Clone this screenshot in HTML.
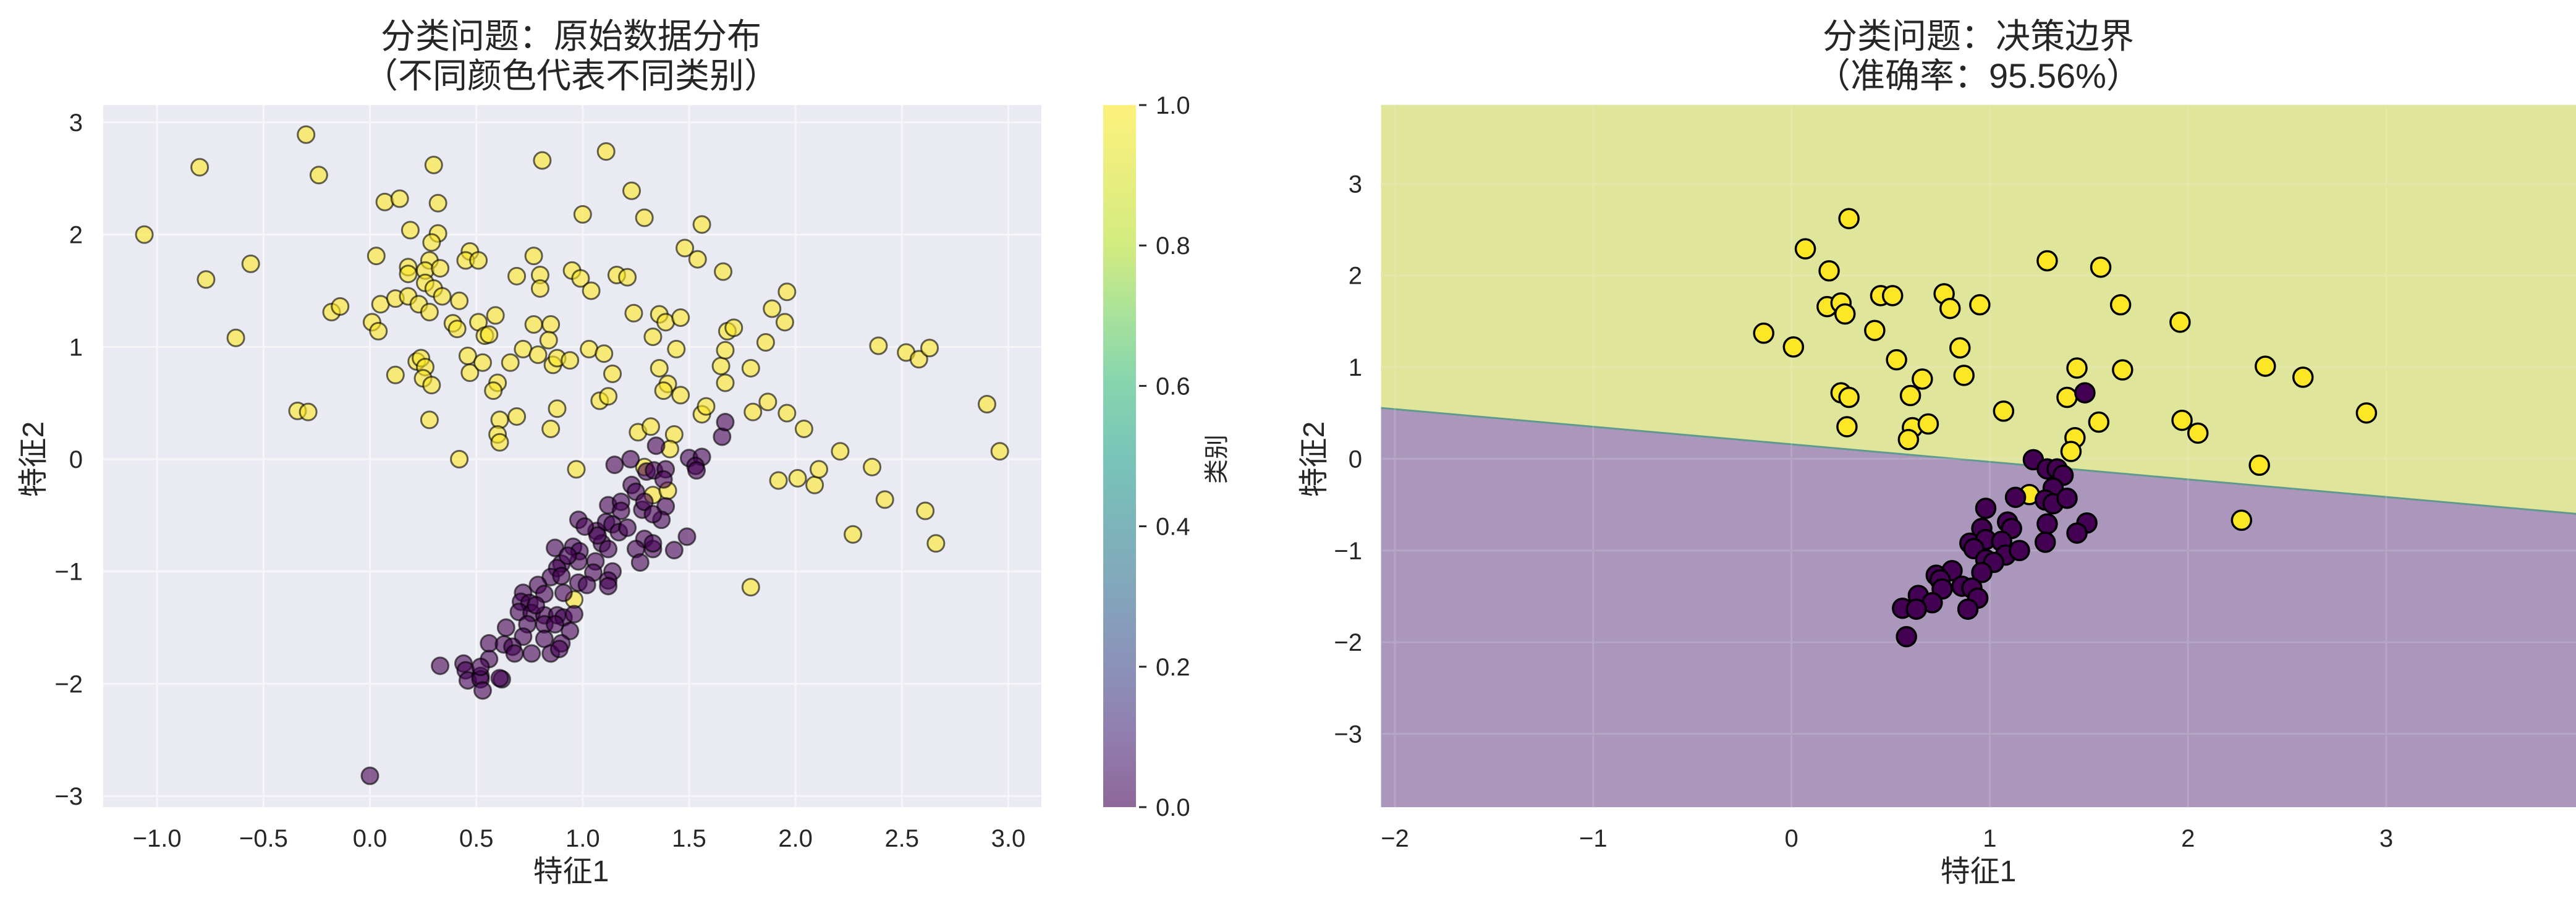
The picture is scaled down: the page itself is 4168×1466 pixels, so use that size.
<!DOCTYPE html>
<html><head><meta charset="utf-8">
<style>
html,body{margin:0;padding:0;background:#fff;}
svg{display:block;font-family:"Liberation Sans","Noto Sans CJK SC",sans-serif;}
</style></head>
<body>
<svg id="chart" width="4168" height="1466" viewBox="0 0 4168 1466" xmlns="http://www.w3.org/2000/svg">
<defs>
<linearGradient id="viridis" x1="0" y1="1" x2="0" y2="0">
<stop offset="0" stop-color="#440154"/><stop offset="0.1" stop-color="#482878"/><stop offset="0.2" stop-color="#3e4989"/><stop offset="0.3" stop-color="#31688e"/><stop offset="0.4" stop-color="#26828e"/><stop offset="0.5" stop-color="#1f9e89"/><stop offset="0.6" stop-color="#35b779"/><stop offset="0.7" stop-color="#6ece58"/><stop offset="0.8" stop-color="#b5de2b"/><stop offset="1" stop-color="#fde725"/>
</linearGradient>
<clipPath id="clipL"><rect x="167" y="170" width="1518" height="1136"/></clipPath>
<clipPath id="clipR"><rect x="2236" y="170" width="1932" height="1136"/></clipPath>
</defs>
<g id="left"></g>
<g id="right"></g>
</svg>
<script>
// ---- left panel data (all samples) ----
const leftYellowX = [-1.06,-0.80,-0.77,-0.56,-0.63,-0.30,-0.24,-0.34,-0.29,-0.18,-0.14,0.03,0.01,0.04,0.05,0.07,0.14,0.12,0.18,0.19,0.18,0.18,0.23,0.28,0.30,0.32,0.32,0.29,0.28,0.26,0.33,0.26,0.30,0.34,0.12,0.22,0.24,0.26,0.25,0.29,0.28,0.42,0.42,0.47,0.45,0.51,0.39,0.41,0.46,0.47,0.51,0.54,0.56,0.59,0.53,0.66,0.60,0.58,0.61,0.60,0.61,0.69,0.72,0.69,0.77,0.80,0.80,0.77,0.85,0.84,0.79,0.86,0.88,0.94,0.88,0.85,0.81,0.95,0.99,1.04,1.00,1.11,1.03,1.10,1.14,1.08,1.12,0.97,1.16,1.21,1.23,1.29,1.24,1.36,1.39,1.46,1.33,1.44,1.36,1.40,1.38,1.46,1.26,1.32,1.43,1.41,1.29,1.33,1.48,1.54,1.56,1.66,1.56,1.58,1.65,1.67,1.67,1.68,1.71,1.79,1.86,1.89,1.95,1.96,1.80,1.87,1.96,2.04,1.92,2.01,2.09,2.11,2.21,1.79,2.27,2.36,2.42,2.39,2.52,2.58,2.63,2.61,2.66,2.90,2.96,1.40,0.96];
const leftYellowY = [2.00,2.60,1.60,1.74,1.08,2.89,2.53,0.43,0.42,1.31,1.36,1.81,1.22,1.14,1.38,2.29,2.32,1.43,1.45,2.04,1.71,1.65,1.38,1.31,2.62,2.28,2.01,1.93,1.77,1.68,1.70,1.57,1.52,1.45,0.75,0.87,0.90,0.82,0.72,0.66,0.35,0.00,1.41,1.85,1.77,1.77,1.21,1.16,0.92,0.77,1.22,1.10,1.11,1.28,0.86,0.86,0.68,0.61,0.35,0.22,0.15,0.38,0.98,1.63,1.81,1.64,1.52,1.20,1.20,1.06,0.93,0.84,0.90,0.88,0.45,0.27,2.66,1.68,1.61,1.50,2.18,2.74,0.98,0.94,0.76,0.52,0.56,-0.09,1.64,1.62,2.39,2.15,1.30,1.29,1.22,1.26,1.09,0.98,0.81,0.67,0.61,0.57,0.24,0.29,0.22,0.09,-0.07,-0.32,1.88,1.78,2.09,1.67,0.40,0.47,0.83,0.97,0.68,1.14,1.17,0.81,1.04,1.34,1.22,1.49,0.42,0.51,0.41,0.27,-0.19,-0.17,-0.23,-0.09,0.07,-1.14,-0.67,-0.07,-0.36,1.01,0.95,0.89,0.99,-0.46,-0.75,0.49,0.07,-0.28,-1.25];
const leftPurpleX = [1.655,1.67,1.345,1.50,1.56,1.53,1.535,1.15,1.225,1.30,1.335,1.39,1.38,1.23,1.25,1.12,1.18,1.18,1.28,1.29,1.39,1.37,1.33,0.98,1.065,1.11,1.14,1.17,1.21,1.09,1.12,1.29,1.25,1.33,1.33,1.27,1.43,1.49,0.87,0.955,0.985,0.90,0.98,1.06,0.88,1.14,1.05,0.98,0.85,0.90,1.02,1.12,1.12,0.79,0.72,0.82,0.91,0.71,0.75,0.70,0.76,0.82,0.88,0.91,0.96,0.74,0.82,0.87,0.64,0.72,0.82,0.94,0.56,0.63,0.67,0.68,0.76,0.85,0.90,0.89,0.56,0.33,0.44,0.45,0.46,0.52,0.52,0.62,0.61,0.53,0.52,0.00,1.07,1.01,0.93,0.78];
const leftPurpleY = [0.20,0.33,0.12,0.01,0.02,-0.06,-0.10,-0.05,0.00,-0.11,-0.10,-0.09,-0.18,-0.23,-0.29,-0.41,-0.38,-0.46,-0.45,-0.38,-0.42,-0.54,-0.49,-0.54,-0.64,-0.56,-0.58,-0.65,-0.61,-0.75,-0.80,-0.71,-0.80,-0.80,-0.75,-0.92,-0.81,-0.69,-0.79,-0.78,-0.82,-0.93,-0.91,-0.91,-0.97,-1.00,-1.01,-1.10,-1.05,-1.04,-1.12,-1.08,-1.13,-1.12,-1.19,-1.20,-1.19,-1.27,-1.28,-1.36,-1.37,-1.39,-1.39,-1.41,-1.38,-1.47,-1.47,-1.47,-1.50,-1.58,-1.60,-1.53,-1.64,-1.65,-1.67,-1.73,-1.73,-1.73,-1.64,-1.69,-1.78,-1.84,-1.82,-1.88,-1.97,-1.93,-1.96,-1.96,-1.95,-2.06,-1.85,-2.82,-0.68,-0.60,-0.86,-1.30];
const leftXTicks = [-1.0,-0.5,0.0,0.5,1.0,1.5,2.0,2.5,3.0];
const leftYTicks = [-3,-2,-1,0,1,2,3];
const cbTicks = [0.0,0.2,0.4,0.6,0.8,1.0];
// ---- right panel data (test samples + boundary) ----
const rightYellowX = [0.29,0.07,0.19,0.18,0.25,0.27,0.45,0.51,0.77,0.80,0.95,-0.14,0.01,0.42,0.53,0.66,0.85,0.87,0.25,0.29,0.28,0.60,0.61,0.59,0.69,1.07,1.29,1.56,1.66,1.44,1.67,1.39,1.55,1.43,1.41,1.96,1.97,2.05,2.39,2.58,2.90,2.36,2.27,1.20];
const rightYellowY = [2.62,2.29,2.05,1.66,1.70,1.58,1.78,1.78,1.80,1.64,1.68,1.37,1.22,1.40,1.08,0.87,1.21,0.91,0.72,0.67,0.35,0.69,0.34,0.21,0.38,0.52,2.16,2.09,1.68,0.99,0.97,0.67,0.40,0.23,0.08,1.49,0.42,0.28,1.01,0.89,0.50,-0.07,-0.67,-0.39];
const rightPurpleX = [1.48,1.22,1.29,1.34,1.37,1.32,1.13,1.28,1.32,1.39,0.98,1.09,1.11,1.29,1.49,1.44,1.28,0.96,0.90,0.98,1.06,0.92,1.08,1.15,0.98,1.02,0.96,0.81,0.73,0.75,0.86,0.91,0.76,0.64,0.71,0.94,0.56,0.63,0.89,0.58];
const rightPurpleY = [0.72,-0.01,-0.11,-0.11,-0.18,-0.32,-0.42,-0.45,-0.49,-0.43,-0.54,-0.69,-0.76,-0.71,-0.70,-0.81,-0.91,-0.76,-0.92,-0.88,-0.90,-0.98,-1.05,-1.00,-1.10,-1.13,-1.24,-1.22,-1.27,-1.32,-1.39,-1.41,-1.42,-1.49,-1.57,-1.52,-1.63,-1.64,-1.64,-1.94];
const boundaryX = [-2.07, 3.96];
const boundaryY = [0.555, -0.60];
const rightXTicks = [-2,-1,0,1,2,3];
const rightYTicks = [-3,-2,-1,0,1,2,3];

const NS = "http://www.w3.org/2000/svg";
function mk(tag, attrs, parent){ const e=document.createElementNS(NS,tag); for(const k in attrs) e.setAttribute(k,attrs[k]); parent.appendChild(e); return e; }
function lx(v){return 598.5+v*344.3;} function ly(v){return 743-v*181.7;}
function rx(v){return 2898.6+v*320.8;} function ry(v){return 742.4-v*148.35;}
function cby(v){return 1306-v*1136;}
const L=document.getElementById('left'), R=document.getElementById('right');
function fmt1(v){return (v<0?'\u2212':'')+Math.abs(v).toFixed(1);}
function fmt0(v){return (v<0?'\u2212':'')+Math.abs(v);}

// ===== LEFT =====
let bg=mk('rect',{x:167,y:170,width:1518,height:1136,fill:'#eaeaf2'},L);


const lgrid=mk('g',{stroke:'#ffffff','stroke-width':3,opacity:0.6},L);


leftXTicks.forEach(v=>{const l=mk('line',{x1:lx(v),x2:lx(v),y1:170,y2:1306},lgrid);

});
leftYTicks.forEach(v=>{const l=mk('line',{x1:167,x2:1685,y1:ly(v),y2:ly(v)},lgrid);

});
const lpts=mk('g',{'clip-path':'url(#clipL)'},L);


leftYellowX.forEach((x,i)=>{const c=mk('circle',{cx:lx(x),cy:ly(leftYellowY[i]),r:13.5,fill:'#fde725','fill-opacity':0.6,stroke:'#000','stroke-opacity':0.6,'stroke-width':3},lpts);

});
leftPurpleX.forEach((x,i)=>{const c=mk('circle',{cx:lx(x),cy:ly(leftPurpleY[i]),r:13.5,fill:'#440154','fill-opacity':0.6,stroke:'#000','stroke-opacity':0.6,'stroke-width':3},lpts);

});
leftXTicks.forEach(v=>{const t=mk('text',{x:lx(v),y:1370,'font-size':40,'text-anchor':'middle',fill:'#262626'},L);t.textContent=fmt1(v);

});
leftYTicks.forEach(v=>{const t=mk('text',{x:134,y:ly(v)+14,'font-size':40,'text-anchor':'end',fill:'#262626'},L);t.textContent=fmt0(v);

});
let t1=mk('text',{x:924,y:1426,'font-size':48,'text-anchor':'middle',fill:'#262626'},L);t1.textContent='特征1';


let t2=mk('text',{x:0,y:0,'font-size':48,'text-anchor':'middle',fill:'#262626',transform:'translate(70,743) rotate(-90)'},L);t2.textContent='特征2';


let t3=mk('text',{x:924,y:78,'font-size':56,'text-anchor':'middle',fill:'#262626'},L);t3.textContent='分类问题：原始数据分布';


let t4=mk('text',{x:924,y:142,'font-size':56,'text-anchor':'middle',fill:'#262626'},L);t4.textContent='（不同颜色代表不同类别）';


// colorbar
let cb=mk('rect',{x:1785,y:170,width:53,height:1136,fill:'url(#viridis)',opacity:0.6},L);


cbTicks.forEach(v=>{const l=mk('line',{x1:1843,x2:1855,y1:cby(v),y2:cby(v),stroke:'#262626','stroke-width':3},L);


const t=mk('text',{x:1870,y:cby(v)+14,'font-size':40,fill:'#262626'},L);t.textContent=v.toFixed(1);

});
let t5=mk('text',{x:0,y:0,'font-size':40,'text-anchor':'middle',fill:'#262626',transform:'translate(1982,743) rotate(-90)'},L);t5.textContent='类别';



// ===== RIGHT =====
const rTop=ry(3.86), rBot=ry(-3.80);
const yellowPoly=mk('polygon',{points:`${rx(boundaryX[0])},${rTop} ${rx(boundaryX[1])},${rTop} ${rx(boundaryX[1])},${ry(boundaryY[1])} ${rx(boundaryX[0])},${ry(boundaryY[0])}`,fill:'#dfe59b'},R);


const purplePoly=mk('polygon',{points:`${rx(boundaryX[0])},${ry(boundaryY[0])} ${rx(boundaryX[1])},${ry(boundaryY[1])} ${rx(boundaryX[1])},${rBot} ${rx(boundaryX[0])},${rBot}`,fill:'#aa97bb'},R);


const bl=mk('line',{x1:rx(boundaryX[0]),y1:ry(boundaryY[0]),x2:rx(boundaryX[1]),y2:ry(boundaryY[1]),stroke:'#5f9a8c','stroke-width':3},R);


const rgrid=mk('g',{stroke:'#ffffff','stroke-width':3,opacity:0.15},R);


rightXTicks.forEach(v=>{const l=mk('line',{x1:rx(v),x2:rx(v),y1:170,y2:1306},rgrid);

});
rightYTicks.forEach(v=>{const l=mk('line',{x1:2236,x2:4168,y1:ry(v),y2:ry(v)},rgrid);

});
const rpts=mk('g',{'clip-path':'url(#clipR)'},R);


rightYellowX.forEach((x,i)=>{const c=mk('circle',{cx:rx(x),cy:ry(rightYellowY[i]),r:15.5,fill:'#fde725',stroke:'#000','stroke-width':3.5},rpts);

});
rightPurpleX.forEach((x,i)=>{const c=mk('circle',{cx:rx(x),cy:ry(rightPurpleY[i]),r:15.5,fill:'#440154',stroke:'#000','stroke-width':3.5},rpts);

});
rightXTicks.forEach(v=>{const t=mk('text',{x:rx(v),y:1370,'font-size':40,'text-anchor':'middle',fill:'#262626'},R);t.textContent=fmt0(v);

});
rightYTicks.forEach(v=>{const t=mk('text',{x:2204,y:ry(v)+14,'font-size':40,'text-anchor':'end',fill:'#262626'},R);t.textContent=fmt0(v);

});
let r1=mk('text',{x:3201,y:1426,'font-size':48,'text-anchor':'middle',fill:'#262626'},R);r1.textContent='特征1';


let r2=mk('text',{x:0,y:0,'font-size':48,'text-anchor':'middle',fill:'#262626',transform:'translate(2142,743) rotate(-90)'},R);r2.textContent='特征2';


let r3=mk('text',{x:3201,y:78,'font-size':56,'text-anchor':'middle',fill:'#262626'},R);r3.textContent='分类问题：决策边界';


let r4=mk('text',{x:3201,y:142,'font-size':56,'text-anchor':'middle',fill:'#262626'},R);r4.textContent='（准确率：95.56%）';


</script>
</body></html>
